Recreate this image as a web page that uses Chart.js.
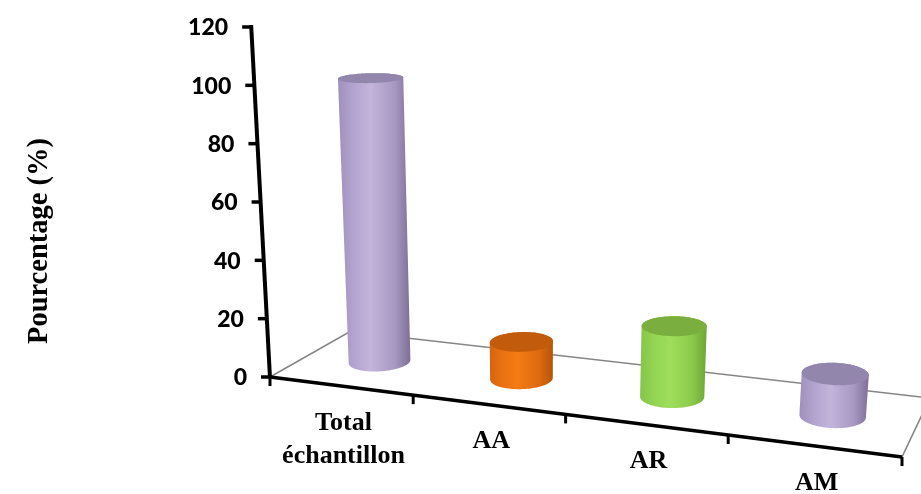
<!DOCTYPE html>
<html>
<head>
<meta charset="utf-8">
<script src="https://cdn.jsdelivr.net/npm/chart.js@4/dist/chart.umd.min.js"></script>
<style>
  html, body { margin: 0; padding: 0; background: #ffffff; }
  #wrap { width: 921px; height: 494px; }
</style>
</head>
<body>
<div id="wrap"><canvas id="chart" width="921" height="494"></canvas></div>
<script>
// Categories (multi-line label for the first one) and their percentages
const categories = [['Total', 'échantillon'], 'AA', 'AR', 'AM'];
const percentages = [100, 12.6, 23.6, 13.7];
const yTickValues = [0, 20, 40, 60, 80, 100, 120];
const yTitle = 'Pourcentage (%)';

// Cylinder shading: side gradient stops (left -> right) and top face colour
const purple = { side: ['#9E8FBB', '#B2A3CE', '#C3B4DB', '#A899C3', '#7D6F95'], top: '#9386AC' };
const orange = { side: ['#D8630E', '#EA7212', '#F47B15', '#DE6A0E', '#B6540A'], top: '#C25B0B' };
const green  = { side: ['#85C447', '#93D453', '#9EDE5C', '#8BCA4B', '#6FA636'], top: '#7AAF3F' };
const cylinderStyles = [purple, orange, green, purple];

// Projective map of the unit square (u along categories, v into depth) onto the floor quad
function squareToQuad(p0, p1, p2, p3) {
  const dx1 = p1.x - p2.x, dx2 = p3.x - p2.x, dx3 = p0.x - p1.x + p2.x - p3.x;
  const dy1 = p1.y - p2.y, dy2 = p3.y - p2.y, dy3 = p0.y - p1.y + p2.y - p3.y;
  const den = dx1 * dy2 - dx2 * dy1;
  const g = (dx3 * dy2 - dx2 * dy3) / den;
  const h = (dx1 * dy3 - dx3 * dy1) / den;
  return {
    a: p1.x - p0.x + g * p1.x, b: p3.x - p0.x + h * p3.x, c: p0.x,
    d: p1.y - p0.y + g * p1.y, e: p3.y - p0.y + h * p3.y, f: p0.y, g, h
  };
}

function convexHull(points) {
  const pts = points.slice().sort((p, q) => p.x - q.x || p.y - q.y);
  const cross = (o, a, b) => (a.x - o.x) * (b.y - o.y) - (a.y - o.y) * (b.x - o.x);
  const lower = [], upper = [];
  for (const p of pts) {
    while (lower.length >= 2 && cross(lower[lower.length - 2], lower[lower.length - 1], p) <= 0) lower.pop();
    lower.push(p);
  }
  for (let i = pts.length - 1; i >= 0; i--) {
    const p = pts[i];
    while (upper.length >= 2 && cross(upper[upper.length - 2], upper[upper.length - 1], p) <= 0) upper.pop();
    upper.push(p);
  }
  upper.pop(); lower.pop();
  return lower.concat(upper);
}

function tracePath(ctx, pts) {
  ctx.beginPath();
  pts.forEach((p, i) => (i ? ctx.lineTo(p.x, p.y) : ctx.moveTo(p.x, p.y)));
  ctx.closePath();
}

// Draws the perspective floor, the cylinders and the axes from the chart's scales
const perspectiveCylinders = {
  id: 'perspectiveCylinders',
  afterDraw(chart) {
    const { ctx, chartArea: A, scales: { x, y } } = chart;
    const n = chart.data.labels.length;
    const values = chart.data.datasets[0].data;

    // floor corners: front-left, front-right, back-right, back-left
    const FL = { x: A.left, y: A.bottom };
    const FR = { x: A.right, y: A.bottom + 80 };
    const BR = { x: A.right + 28, y: A.bottom + 21 };
    const BL = { x: A.left + 80, y: A.bottom - 45.5 };
    // vanishing point of the vertical direction (far below the plot)
    const VP = { x: 535, y: A.bottom + 4918 };

    const H = squareToQuad(FL, FR, BR, BL);
    const floor = (u, v) => {
      const w = H.g * u + H.h * v + 1;
      return { x: (H.a * u + H.b * v + H.c) / w, y: (H.d * u + H.e * v + H.f) / w, w };
    };
    const rise = (p, val) => {
      const L = y.getPixelForValue(0) - y.getPixelForValue(val);
      const k = L / (VP.y - FL.y) / p.w;
      return { x: p.x + (p.x - VP.x) * k, y: p.y + (p.y - VP.y) * k };
    };
    const uOf = i => (x.getPixelForValue(i) - A.left) / A.width;
    const origin = floor(0, 0);

    ctx.save();
    ctx.lineCap = 'butt';

    // back and side edges of the floor
    ctx.strokeStyle = '#858585';
    ctx.lineWidth = 1.6;
    ctx.beginPath();
    ctx.moveTo(FL.x, FL.y);
    ctx.lineTo(BL.x, BL.y);
    ctx.lineTo(BR.x, BR.y);
    ctx.lineTo(FR.x, FR.y);
    ctx.stroke();

    // cylinders
    const rU = 0.049, rV = 0.2, vc = 0.5, N = 96;
    values.forEach((val, i) => {
      const uc = uOf(i);
      const base = [], top = [];
      for (let j = 0; j < N; j++) {
        const th = (j / N) * Math.PI * 2;
        const b = floor(uc + rU * Math.cos(th), vc + rV * Math.sin(th));
        base.push(b);
        top.push(rise(b, val));
      }
      const hull = convexHull(base.concat(top));
      let minX = Infinity, maxX = -Infinity;
      hull.forEach(p => { minX = Math.min(minX, p.x); maxX = Math.max(maxX, p.x); });
      const st = cylinderStyles[i];
      const grad = ctx.createLinearGradient(minX, 0, maxX, 0);
      [0, 0.2, 0.45, 0.78, 1].forEach((s, k) => grad.addColorStop(s, st.side[k]));
      ctx.fillStyle = grad;
      tracePath(ctx, hull);
      ctx.fill();
      ctx.fillStyle = st.top;
      tracePath(ctx, top);
      ctx.fill();
    });

    // front edge of the floor (category axis) and its tick marks
    ctx.strokeStyle = '#000000';
    ctx.lineWidth = 3.5;
    ctx.beginPath();
    ctx.moveTo(FL.x, FL.y);
    ctx.lineTo(FR.x, FR.y);
    ctx.stroke();
    ctx.lineWidth = 3;
    for (let i = 0; i <= n; i++) {
      const p = floor(i === n ? 1 : uOf(i) - 0.5 / n, 0);
      ctx.beginPath();
      ctx.moveTo(p.x, p.y);
      ctx.lineTo(p.x, p.y + 9);
      ctx.stroke();
    }

    // value axis, ticks and tick labels
    const axisBottom = rise(origin, y.min), axisTop = rise(origin, y.max);
    ctx.lineWidth = 4;
    ctx.beginPath();
    ctx.moveTo(axisBottom.x, axisBottom.y + 1);
    ctx.lineTo(axisTop.x, axisTop.y - 2);
    ctx.stroke();
    ctx.font = '900 23px Lato, "Open Sans", sans-serif';
    ctx.fillStyle = '#000000';
    ctx.textAlign = 'right';
    ctx.textBaseline = 'middle';
    ctx.lineWidth = 3.5;
    y.ticks.forEach(t => {
      const p = rise(origin, t.value);
      ctx.beginPath();
      ctx.moveTo(p.x, p.y);
      ctx.lineTo(p.x - 9, p.y);
      ctx.stroke();
      ctx.fillText(String(t.value), p.x - 23, p.y + 1);
    });

    // category labels under the front edge
    ctx.font = 'bold 26px "Liberation Serif", "Times New Roman", serif';
    ctx.textAlign = 'center';
    chart.data.labels.forEach((lab, i) => {
      const p = floor(uOf(i), 0);
      const lines = Array.isArray(lab) ? lab : [lab];
      lines.forEach((line, k) => ctx.fillText(line, p.x + 3, p.y + 37 + k * 33));
    });

    // value axis title
    ctx.save();
    ctx.translate(40, 241);
    ctx.rotate(-Math.PI / 2);
    ctx.font = 'bold 28.5px "Liberation Serif", "Times New Roman", serif';
    ctx.textAlign = 'center';
    ctx.fillText(yTitle, 0, 0);
    ctx.restore();

    ctx.restore();
  }
};

new Chart(document.getElementById('chart'), {
  type: 'bar',
  data: {
    labels: categories,
    datasets: [{ data: percentages, backgroundColor: 'rgba(0,0,0,0)', borderWidth: 0 }]
  },
  options: {
    responsive: false,
    animation: false,
    events: [],
    layout: { padding: { left: 270, right: 19, top: 27, bottom: 117 } },
    plugins: { legend: { display: false }, tooltip: { enabled: false } },
    scales: {
      x: { display: false },
      y: {
        display: false, min: 0, max: 120,
        afterBuildTicks: s => { s.ticks = yTickValues.map(v => ({ value: v })); }
      }
    }
  },
  plugins: [perspectiveCylinders]
});
</script>
</body>
</html>
